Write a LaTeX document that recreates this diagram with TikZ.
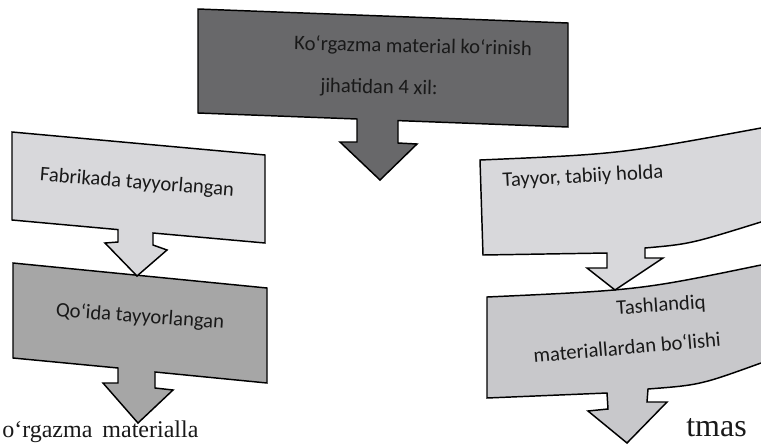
\documentclass[tikz,border=0pt]{standalone}
\usepackage{fontspec}
\setmainfont{Carlito}
\newfontfamily\pagefont{Liberation Serif}
\definecolor{topgray}{RGB}{104,104,106}
\definecolor{lightgray1}{RGB}{216,216,219}
\definecolor{midgray}{RGB}{166,166,166}
\definecolor{rightgray}{RGB}{200,200,203}
\definecolor{inkcol}{RGB}{25,25,25}
\begin{document}
\begin{tikzpicture}[x=0.75pt,y=-0.75pt,line join=miter,
  callout/.style={draw=black,line width=1.1pt},
  lbl/.style={font=\fontsize{15.5}{18}\selectfont,text=inkcol,inner sep=0pt},
  frag/.style={font=\pagefont\fontsize{18}{22}\selectfont,text=inkcol,inner sep=0pt}]
\useasboundingbox (0,0) rectangle (761,444);
\fill[white] (0,0) rectangle (761,444);
\begin{scope}
\clip (0,0) rectangle (761,444);
% right column
\draw[callout,fill=rightgray] (487,297) .. controls (640,290) .. (761,265) -- (775,262) -- (775,360) -- (761,363)
  .. controls (700,385) .. (648,389) -- (647,402) -- (667,402) -- (627,443) -- (588,411) -- (608,409)
  -- (607,393) -- (487,398) -- cycle;
\draw[callout,fill=lightgray1] (480,160) .. controls (620,154) .. (761,128) -- (775,124) -- (775,218) -- (761,222)
  .. controls (690,244) .. (645,248) -- (645,258) -- (663,258) -- (615,290) -- (587,268) -- (607,268)
  -- (607,253) -- (483,255) -- cycle;
% left column
\draw[callout,fill=midgray] (13,263) -- (267,288) -- (267,383) -- (155,372) -- (155,388) -- (173,390)
  -- (138,423) -- (103,383) -- (118,383) -- (118,368) -- (13,358) -- cycle;
\draw[callout,fill=lightgray1] (12,132) -- (265,155) -- (265,243) -- (153,233) -- (153,245) -- (167,250)
  -- (137,276) -- (105,243) -- (118,242) -- (118,229.6) -- (12,220) -- cycle;
% top
\draw[callout,fill=topgray] (198,9) -- (568,23) -- (568,127) -- (398,120.6) -- (398,143) -- (417,144)
  -- (380,180) -- (340,142) -- (357,142) -- (357,119) -- (198,113) -- cycle;
\end{scope}
% labels
\node[lbl,rotate=-1.3] (t1) at (413,47) {Ko`rgazma material ko`rinish};
\node[lbl,rotate=-1.3] (t2) at (379,88) {jihatidan 4 xil:};
\node[lbl,rotate=-4.5] (l1) at (137,183) {Fabrikada tayyorlangan};
\node[lbl,rotate=-4] (l2) at (140,317) {Qo`ida tayyorlangan};
\node[lbl,rotate=3] (r1) at (583,177) {Tayyor, tabiiy holda};
\node[lbl,rotate=4] (r2a) at (661,306) {Tashlandiq};
\node[lbl,rotate=5] (r2b) at (627,347) {materiallardan bo`lishi};
% page fragments
\node[frag,anchor=base west] (f1) at (2,437) {o‘rgazma\, materialla};
\node[frag,font=\pagefont\fontsize{24}{28}\selectfont,anchor=base west] (f2) at (686,436) {tmas};
\end{tikzpicture}
\end{document}
